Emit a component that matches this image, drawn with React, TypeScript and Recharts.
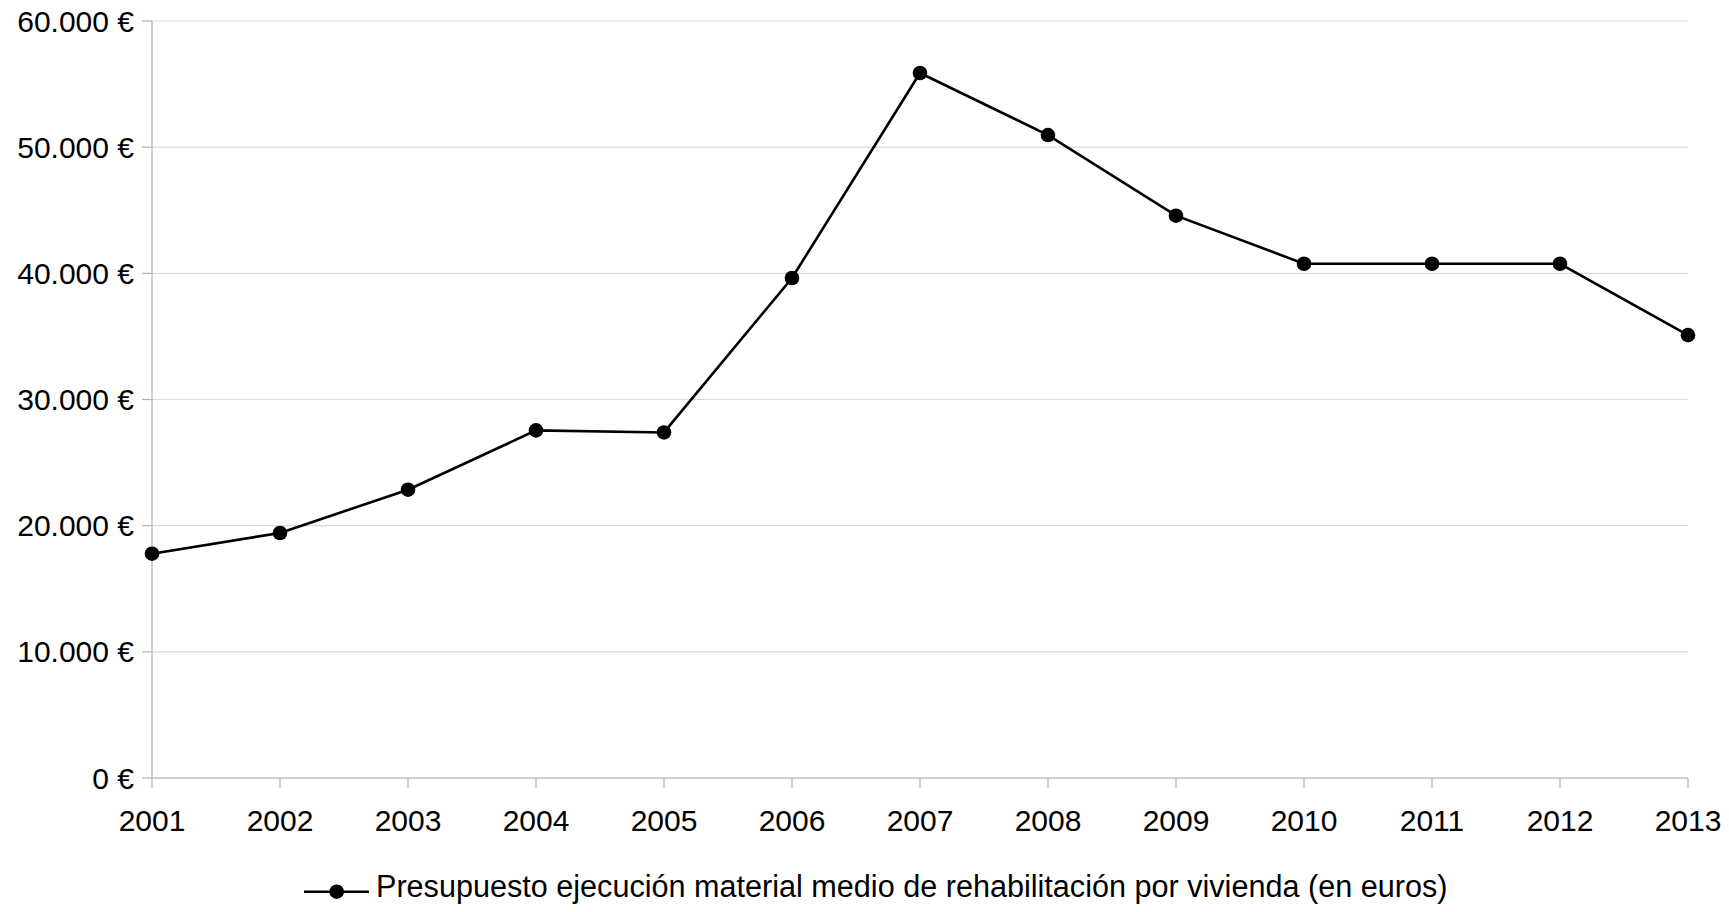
import React from "react";
import { LineChart, Line, XAxis, YAxis, CartesianGrid, Legend } from "recharts";

const years = ["2001", "2002", "2003", "2004", "2005", "2006", "2007", "2008", "2009", "2010", "2011", "2012", "2013"];
const presupuesto = [17780, 19420, 22850, 27550, 27390, 39630, 55880, 50960, 44570, 40760, 40760, 40760, 35100];
const yTicks = [0, 10000, 20000, 30000, 40000, 50000, 60000];
const seriesName = "Presupuesto ejecución material medio de rehabilitación por vivienda (en euros)";

const data = years.map((y, i) => ({ year: y, value: presupuesto[i] }));

const FONT = '"Liberation Sans", Arial, Helvetica, sans-serif';

const fmt = (v: number) => v.toString().replace(/\B(?=(\d{3})+(?!\d))/g, ".") + " €";

const LegendContent = () => (
  <svg width={1200} height={24} style={{ overflow: "visible", display: "block" }}>
    <line x1={0} y1={11.7} x2={65} y2={11.7} stroke="#000" strokeWidth={2.5} />
    <circle cx={32.7} cy={11.7} r={7.3} fill="#000" />
    <text x={72} y={17.3} fontFamily={FONT} fontSize={30.6} fill="#000">
      {seriesName}
    </text>
  </svg>
);

export default function App() {
  return (
    <div style={{ width: 1729, height: 904, marginTop: -8, marginLeft: -8, background: "#fff" }}>
      <LineChart
        width={1729}
        height={904}
        data={data}
        margin={{ top: 21, right: 41, left: 0, bottom: 0 }}
      >
        <CartesianGrid vertical={false} stroke="#d9d9d9" strokeWidth={1.2} />
        <XAxis
          dataKey="year"
          height={102}
          tickSize={10}
          tickMargin={22}
          stroke="#b3b3b3"
          strokeWidth={1.2}
          tick={{ fill: "#000", fontSize: 30, fontFamily: FONT }}
          interval={0}
        />
        <YAxis
          width={152}
          domain={[0, 60000]}
          ticks={yTicks}
          tickFormatter={fmt}
          tickSize={10}
          tickMargin={8}
          stroke="#b3b3b3"
          strokeWidth={1.2}
          tick={{ fill: "#000", fontSize: 30, fontFamily: FONT }}
          interval={0}
        />
        <Legend
          verticalAlign="bottom"
          content={<LegendContent />}
          wrapperStyle={{ left: 304, bottom: 0, width: "auto", height: 24 }}
        />
        <Line
          type="linear"
          dataKey="value"
          name={seriesName}
          stroke="#000"
          strokeWidth={2.6}
          dot={{ r: 7.3, fill: "#000", stroke: "#000", strokeWidth: 0 }}
          activeDot={false}
          isAnimationActive={false}
        />
      </LineChart>
    </div>
  );
}
